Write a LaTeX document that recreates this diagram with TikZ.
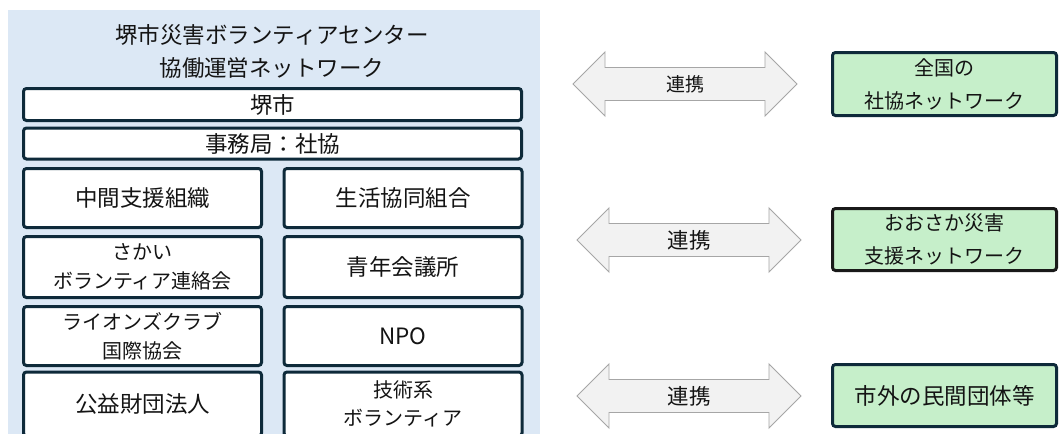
\documentclass[tikz,border=0pt]{standalone}
\usepackage{fontspec}
\newfontfamily\jp{Noto Sans CJK JP}
\usetikzlibrary{calc}
\definecolor{bgblue}{HTML}{DCE8F5}
\definecolor{navy}{HTML}{0E2A3A}
\definecolor{boxgreen}{HTML}{C6EFCA}
\definecolor{arrowfill}{HTML}{F2F2F2}
\definecolor{arrowline}{HTML}{A6A6A6}
\definecolor{txt}{HTML}{141414}
\tikzset{
  orgbox/.style={draw=navy, line width=3pt, fill=white, rounded corners=3pt,
    align=center, inner sep=0pt, text=txt, font=\jp\fontsize{22.5}{30}\selectfont},
  smalltext/.style={font=\jp\fontsize{20}{29}\selectfont},
  wide/.style={orgbox, minimum width=498pt},
  col/.style={orgbox, minimum width=238pt},
  netbox/.style={draw=navy, line width=3pt, fill=boxgreen, rounded corners=3pt,
    align=center, inner sep=0pt, text=txt, minimum width=224pt, minimum height=62pt,
    font=\jp\fontsize{20}{33}\selectfont},
  arrowshape/.style={fill=arrowfill, draw=arrowline, line width=0.9pt, line join=miter},
  arrowlabel/.style={text=txt, inner sep=0pt, font=\jp\fontsize{21.5}{25}\selectfont}
}
\newcommand{\fatarrow}[1]{%
  \path[arrowshape] ($(#1)+(-112,0)$) -- ($(#1)+(-80,-32)$) -- ($(#1)+(-80,-16.5)$)
    -- ($(#1)+(80,-16.5)$) -- ($(#1)+(80,-32)$) -- ($(#1)+(112,0)$)
    -- ($(#1)+(80,32)$) -- ($(#1)+(80,16.5)$) -- ($(#1)+(-80,16.5)$)
    -- ($(#1)+(-80,32)$) -- cycle;}
\begin{document}
\begin{tikzpicture}[x=1pt,y=-1pt]
\useasboundingbox (0,0) rectangle (1061,434);
\clip (0,0) rectangle (1061,434);
\fill[white] (0,0) rectangle (1061,434);
% left panel
\fill[bgblue] (8,10) rectangle (540,440);
\node[align=center, text=txt, inner sep=0pt, font=\jp\fontsize{22.5}{33}\selectfont]
  (title) at (272,51.5) {堺市災害ボランティアセンター\\協働運営ネットワーク};
\node[wide, minimum height=32pt] (sakai) at (272.5,104.5) {堺市};
\node[wide, minimum height=31pt] (jim) at (272.5,143.5) {事務局：社協};
\node[col, minimum height=59pt] (c11) at (142.5,198) {中間支援組織};
\node[col, minimum height=59pt] (c12) at (403,198) {生活協同組合};
\node[col, minimum height=61pt, smalltext] (c21) at (142.5,267) {さかい\\ボランティア連絡会};
\node[col, minimum height=61pt] (c22) at (403,267) {青年会議所};
\node[col, minimum height=59pt, smalltext] (c31) at (142.5,336) {ライオンズクラブ\\国際協会};
\node[col, minimum height=59pt] (c32) at (403,336) {NPO};
\node[col, minimum height=64pt] (c41) at (142.5,404) {公益財団法人};
\node[col, minimum height=64pt, smalltext] (c42) at (403,404) {技術系\\[-1pt]ボランティア};
% arrows
\coordinate (a1) at (685,84);
\coordinate (a2) at (689,240);
\coordinate (a3) at (689,396);
\fatarrow{a1}
\fatarrow{a2}
\fatarrow{a3}
\node[arrowlabel, font=\jp\fontsize{19}{22}\selectfont] (l1) at (a1) {連携};
\node[arrowlabel] (l2) at (a2) {連携};
\node[arrowlabel] (l3) at (a3) {連携};
% network boxes
\node[netbox, minimum height=63pt] (n1) at (944.5,84) {全国の\\社協ネットワーク};
\node[netbox, draw=black!90] (n2) at (944.5,239.5) {おおさか災害\\支援ネットワーク};
\node[netbox, font=\jp\fontsize{22.5}{30}\selectfont] (n3) at (944.5,395.5) {市外の民間団体等};
\end{tikzpicture}
\end{document}
